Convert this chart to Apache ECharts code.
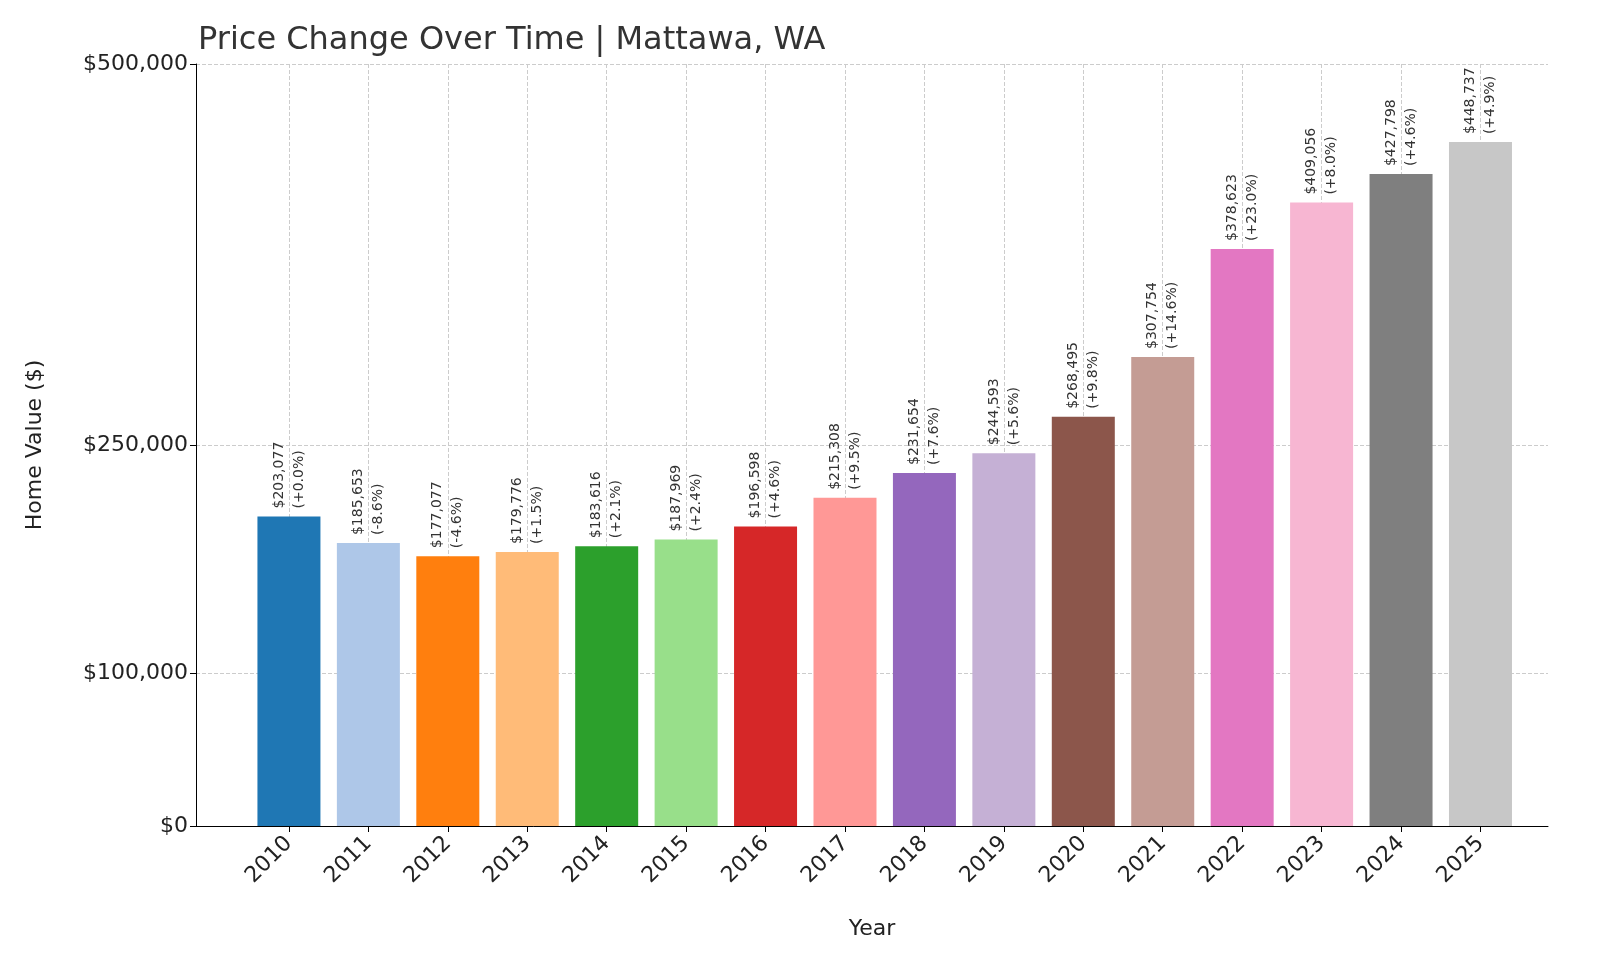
<!DOCTYPE html>
<html><head><meta charset="utf-8">
<script src="https://cdn.jsdelivr.net/npm/echarts@6/dist/echarts.min.js"></script>
<style>html,body{margin:0;padding:0;background:#fff}#c{width:1600px;height:960px}</style>
</head><body><div id="c"></div>
<script>
const years=[2010,2011,2012,2013,2014,2015,2016,2017,2018,2019,2020,2021,2022,2023,2024,2025];
const values=[203077,185653,177077,179776,183616,187969,196598,215308,231654,244593,268495,307754,378623,409056,427798,448737];
const changes=['+0.0%','-8.6%','-4.6%','+1.5%','+2.1%','+2.4%','+4.6%','+9.5%','+7.6%','+5.6%','+9.8%','+14.6%','+23.0%','+8.0%','+4.6%','+4.9%'];
const yTicks=[0,100000,250000,500000];
const colors=['#1f77b4','#aec7e8','#ff7f0e','#ffbb78','#2ca02c','#98df8a','#d62728','#ff9896','#9467bd','#c5b0d5','#8c564b','#c49c94','#e377c2','#f7b6d2','#7f7f7f','#c7c7c7'];
const font='DejaVu Sans';
const chart=echarts.init(document.getElementById('c'));
chart.setOption({
  animation:false,
  textStyle:{fontFamily:font},
  title:{text:'Price Change Over Time | Mattawa, WA',left:193,top:20,textStyle:{fontFamily:font,fontSize:32,fontWeight:'normal',color:'#333'}},
  grid:{left:196,right:52,top:64,bottom:134},
  xAxis:{type:'value',min:2008.83,max:2025.85,name:'Year',nameLocation:'middle',nameGap:92,
    nameTextStyle:{fontSize:22,color:'#222'},
    axisLine:{lineStyle:{color:'#000'}},
    axisTick:{customValues:years,length:6,lineStyle:{color:'#000'}},
    axisLabel:{customValues:years,rotate:45,fontSize:22,color:'#222',margin:14,formatter:v=>String(v)},
    splitLine:{show:true,customValues:years,lineStyle:{type:'dashed',color:'#ccc'}}},
  yAxis:{type:'value',min:0,max:500000,name:'Home Value ($)',nameLocation:'middle',nameGap:150,
    nameTextStyle:{fontSize:22,color:'#222'},
    axisLine:{show:true,lineStyle:{color:'#000'}},
    axisTick:{show:true,customValues:yTicks,length:6,lineStyle:{color:'#000'}},
    axisLabel:{customValues:yTicks,fontSize:22,color:'#222',formatter:v=>'$'+v.toLocaleString('en-US')},
    splitLine:{show:true,customValues:yTicks,lineStyle:{type:'dashed',color:'#ccc'}}},
  series:[{type:'bar',barWidth:63,
    data:years.map((y,i)=>({value:[y,values[i]],itemStyle:{color:colors[i]}})),
    label:{show:true,position:'top',rotate:90,align:'left',verticalAlign:'middle',distance:8,
      fontSize:14,color:'#333',lineHeight:20,
      formatter:p=>'$'+values[p.dataIndex].toLocaleString('en-US')+'\n('+changes[p.dataIndex]+')'}}]
});
</script></body></html>
